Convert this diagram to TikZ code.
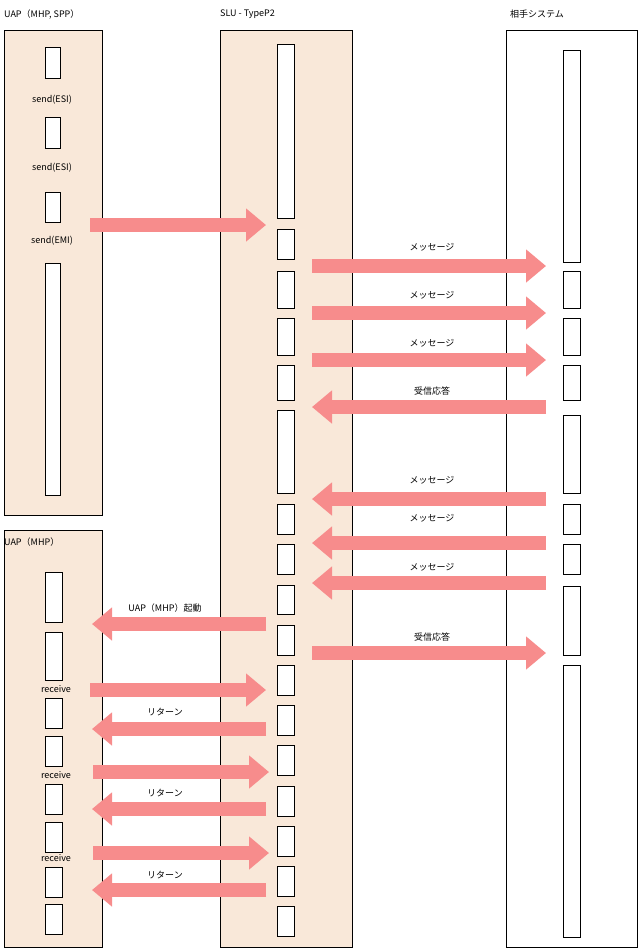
\documentclass[tikz,border=0pt]{standalone}
\usepackage{fontspec}
\setmainfont{Noto Sans CJK JP}
\usetikzlibrary{arrows.meta}
\definecolor{panel}{HTML}{F9E8D9}
\definecolor{arrowpink}{HTML}{F78C8C}
\tikzset{
  panelbox/.style={draw=black, fill=panel, line width=0.6pt},
  bar/.style={draw=black, fill=white, line width=0.6pt},
  msg/.style={draw=arrowpink, line width=14pt, -{Triangle[length=20pt,width=32pt]}},
  lbl/.style={font=\fontsize{9}{10}\selectfont, inner sep=0pt},
}
\begin{document}
\begin{tikzpicture}[x=1pt,y=-1pt]
        \useasboundingbox (0,0) rectangle (641,951);

        % Panels
        \draw[panelbox] (4,30) rectangle (102,515);
        \draw[panelbox] (4,530) rectangle (102,947);
        \draw[panelbox] (220,30) rectangle (352,947);
        \draw[bar] (506,30) rectangle (637,947);

        \node[lbl, anchor=west] (uap1) at (4,14) {UAP（MHP, SPP）};
        \node[lbl, anchor=west] (slu) at (220,14) {SLU - TypeP2};
        \node[lbl, anchor=west] (peer) at (510,14) {相手システム};
        \node[lbl, anchor=west] (uap2) at (4,542) {UAP（MHP）};

        % Bars
        \foreach \ya/\yb in {47/78, 117/148, 192/222, 263/495}
          \draw[bar] (45,\ya) rectangle (60,\yb);
        \foreach \ya/\yb in {572/622, 632/680, 698/728, 736/766, 784/814, 822/852, 867/897, 904/934}
          \draw[bar] (45,\ya) rectangle (62,\yb);
        \foreach \ya/\yb in {44/218, 229/259, 271/308, 318/355, 365/400, 410/493, 504/534, 544/574, 585/614, 625/655, 665/695, 705/735, 745/775, 786/816, 826/856, 866/896, 906/936}
          \draw[bar] (277,\ya) rectangle (294,\yb);
        \foreach \ya/\yb in {50/262, 271/308, 318/355, 365/400, 415/493, 504/534, 544/574, 586/655, 665/937}
          \draw[bar] (563,\ya) rectangle (580,\yb);

        % Texts on UAP side
        \node[lbl] (s1) at (52,100) {send(ESI)};
        \node[lbl] (s2) at (52,168) {send(ESI)};
        \node[lbl] (s3) at (52,241) {send(EMI)};
        \foreach \y [count=\i] in {689, 775, 858}
          \node[lbl] (r\i) at (56,\y) {receive};

        % Arrow ends
        \coordinate (ua) at (90,225);
        \coordinate (sa) at (266,225);
        \foreach \y [count=\i] in {266, 313, 360, 653} {
          \coordinate (sr\i) at (312,\y);
          \coordinate (rr\i) at (546,\y);
        }
        \foreach \y [count=\i] in {407, 499, 543, 583} {
          \coordinate (rl\i) at (546,\y);
          \coordinate (sl\i) at (312,\y);
        }
        \foreach \y [count=\i] in {624, 729, 809, 890} {
          \coordinate (su\i) at (266,\y);
          \coordinate (uu\i) at (92,\y);
        }
        \foreach \x/\y [count=\i] in {90/690, 93/772, 93/853} {
          \coordinate (ud\i) at (\x,\y);
          \coordinate (sd\i) at (\x+176,\y);
        }

        % Arrows
        \draw[msg] (ua) -- (sa);
        \foreach \i in {1,...,4} \draw[msg] (sr\i) -- (rr\i);
        \foreach \i in {1,...,4} \draw[msg] (rl\i) -- (sl\i);
        \foreach \i in {1,...,4} \draw[msg] (su\i) -- (uu\i);
        \foreach \i in {1,...,3} \draw[msg] (ud\i) -- (sd\i);

        % Arrow labels
        \foreach \y/\t in {247/メッセージ, 295/メッセージ, 343/メッセージ, 391/受信応答, 480/メッセージ, 518/メッセージ, 567/メッセージ, 637/受信応答}
          \node[lbl] at (432,\y) {\t};
        \node[lbl] (boot) at (165,608) {UAP（MHP）起動};
        \foreach \y in {712, 793, 875}
          \node[lbl] at (165,\y) {リターン};
\end{tikzpicture}
\end{document}
